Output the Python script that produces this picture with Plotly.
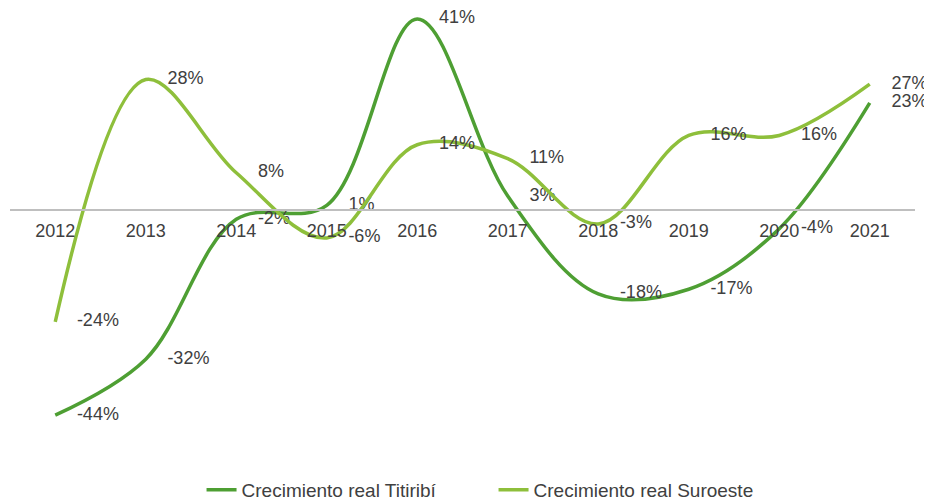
import plotly.graph_objects as go

years = ['2012', '2013', '2014', '2015', '2016', '2017', '2018', '2019', '2020', '2021']
titiribi = [-44, -32, -2, 1, 41, 3, -18, -17, -4, 23]
suroeste = [-24, 28, 8, -6, 14, 11, -3, 16, 16, 27]

dark_green = '#4E9F33'
light_green = '#8EBF3B'
text_col = '#404040'
font_fam = 'Arial, Liberation Sans, sans-serif'

# page body has an 8px margin, so the figure is sized to fit the window
W, H = 924, 494
y_lo, y_hi = -49.14, 42.06


def add_series(fig, name, vals, color):
    fig.add_trace(go.Scatter(
        x=years, y=vals, name=name, mode='lines',
        line=dict(color=color, width=3.5, shape='spline', smoothing=1.0),
    ))
    # data labels (invisible markers give the label offset)
    fig.add_trace(go.Scatter(
        x=years, y=vals, mode='markers+text', showlegend=False, hoverinfo='skip',
        marker=dict(size=33, opacity=0, color=color),
        text=[f'{v}%' for v in vals],
        textposition='middle right',
        textfont=dict(size=18, color=text_col, family=font_fam),
        cliponaxis=False,
    ))


fig = go.Figure()
add_series(fig, 'Crecimiento real Titiribí', titiribi, dark_green)
add_series(fig, 'Crecimiento real Suroeste', suroeste, light_green)

fig.update_layout(
    width=W, height=H,
    margin=dict(l=2, r=17, t=6, b=63, autoexpand=False),
    paper_bgcolor='white', plot_bgcolor='white',
    font=dict(family=font_fam, size=18, color=text_col),
    showlegend=True,
    legend=dict(orientation='h', x=0.5343, xanchor='center', y=-0.1647, yanchor='bottom',
                entrywidth=247, font=dict(size=19, color=text_col), traceorder='normal'),
)
fig.update_xaxes(
    type='category', range=[-0.5, 9.5],
    anchor='free', position=(0 - y_lo) / (y_hi - y_lo),
    showline=True, linecolor='#BFBFBF', linewidth=1.5,
    showgrid=False, zeroline=False,
    ticks='outside', ticklen=5, tickcolor='rgba(0,0,0,0)',
    tickfont=dict(size=18, color=text_col),
)
fig.update_yaxes(range=[y_lo, y_hi], showgrid=False, zeroline=False,
                 showticklabels=False, showline=False)

fig.write_html('out.html')
